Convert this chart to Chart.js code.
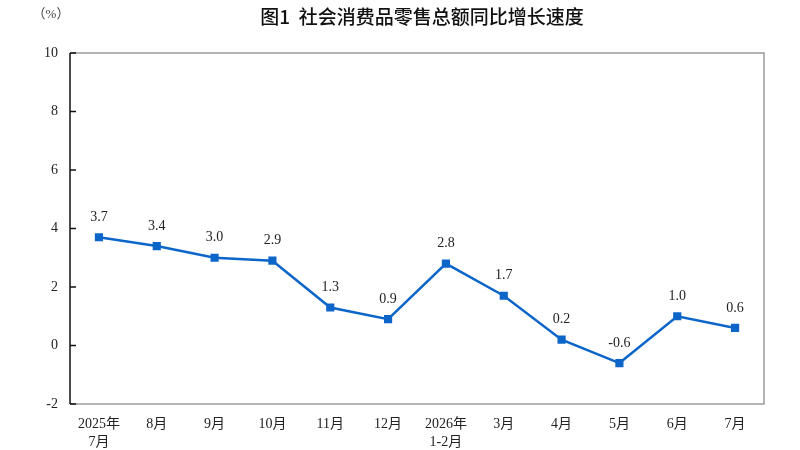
<!DOCTYPE html>
<html lang="zh">
<head>
  <meta charset="UTF-8" />
  <title>社会消费品零售总额同比增长速度</title>
  <script src="https://cdn.jsdelivr.net/npm/chart.js"></script>
  <style>
    html, body { margin: 0; padding: 0; background: #fff; }
    #wrap { width: 800px; height: 450px; }
  </style>
</head>
<body>
  <div id="wrap"><canvas id="retailChart"></canvas></div>
  <script>
    const months = [['2025年', '7月'], '8月', '9月', '10月', '11月', '12月', ['2026年', '1-2月'], '3月', '4月', '5月', '6月', '7月'];
    const growth = [3.7, 3.4, 3.0, 2.9, 1.3, 0.9, 2.8, 1.7, 0.2, -0.6, 1.0, 0.6];
    const yTicks = [-2, 0, 2, 4, 6, 8, 10];

    const serif = '"Liberation Serif", "Times New Roman", "Noto Sans CJK SC", serif';
    const blue = '#0c66c9';

    // frame, inner tick marks, value labels, title
    const decor = {
      id: 'decor',
      afterDraw(chart) {
        const { ctx, chartArea: a, scales } = chart;
        const y = scales.y;
        ctx.save();
        ctx.lineWidth = 1.5;
        ctx.strokeStyle = '#9a9a9a';
        ctx.beginPath();
        ctx.moveTo(a.left, a.top);
        ctx.lineTo(a.right, a.top);
        ctx.lineTo(a.right, a.bottom);
        ctx.lineTo(a.left, a.bottom);
        ctx.stroke();

        ctx.strokeStyle = '#111';
        ctx.beginPath();
        ctx.moveTo(a.left, a.top);
        ctx.lineTo(a.left, a.bottom);
        yTicks.forEach(v => {
          const py = y.getPixelForValue(v);
          ctx.moveTo(a.left, py);
          ctx.lineTo(a.left + 6, py);
        });
        ctx.stroke();

        // value labels above points
        ctx.fillStyle = '#222';
        ctx.font = '14px ' + serif;
        ctx.textAlign = 'center';
        ctx.textBaseline = 'middle';
        chart.getDatasetMeta(0).data.forEach((pt, i) => {
          ctx.fillText(growth[i].toFixed(1), pt.x, pt.y - 20);
        });

        // title and unit
        ctx.font = '500 19px "Noto Sans CJK SC", sans-serif';
        ctx.fillStyle = '#111';
        ctx.fillText('图1  社会消费品零售总额同比增长速度', 422, 17);
        ctx.font = '13px ' + serif;
        ctx.fillStyle = '#444';
        ctx.fillText('（%）', 51, 15);
        ctx.restore();
      }
    };

    new Chart(document.getElementById('retailChart'), {
      type: 'line',
      data: {
        labels: months,
        datasets: [{
          data: growth,
          borderColor: blue,
          backgroundColor: blue,
          borderWidth: 2.5,
          pointStyle: 'rect',
          pointRadius: 4,
          pointHoverRadius: 4,
          tension: 0,
          fill: false
        }]
      },
      options: {
        responsive: true,
        maintainAspectRatio: false,
        animation: false,
        layout: { padding: { top: 53, right: 36, left: 0, bottom: 0 } },
        plugins: {
          legend: { display: false },
          tooltip: { enabled: false }
        },
        scales: {
          x: {
            offset: true,
            grid: { display: false, drawTicks: false },
            border: { display: false },
            ticks: {
              color: '#222',
              font: { family: serif, size: 14, lineHeight: 1.3 },
              padding: 11,
              maxRotation: 0,
              autoSkip: false
            },
            afterFit(scale) { scale.height = 46; }
          },
          y: {
            min: -2,
            max: 10,
            grid: { display: false, drawTicks: false },
            border: { display: false },
            ticks: {
              stepSize: 2,
              color: '#222',
              font: { family: serif, size: 14 },
              padding: 12
            },
            afterFit(scale) { scale.width = 70; }
          }
        }
      },
      plugins: [decor]
    });
  </script>
</body>
</html>
